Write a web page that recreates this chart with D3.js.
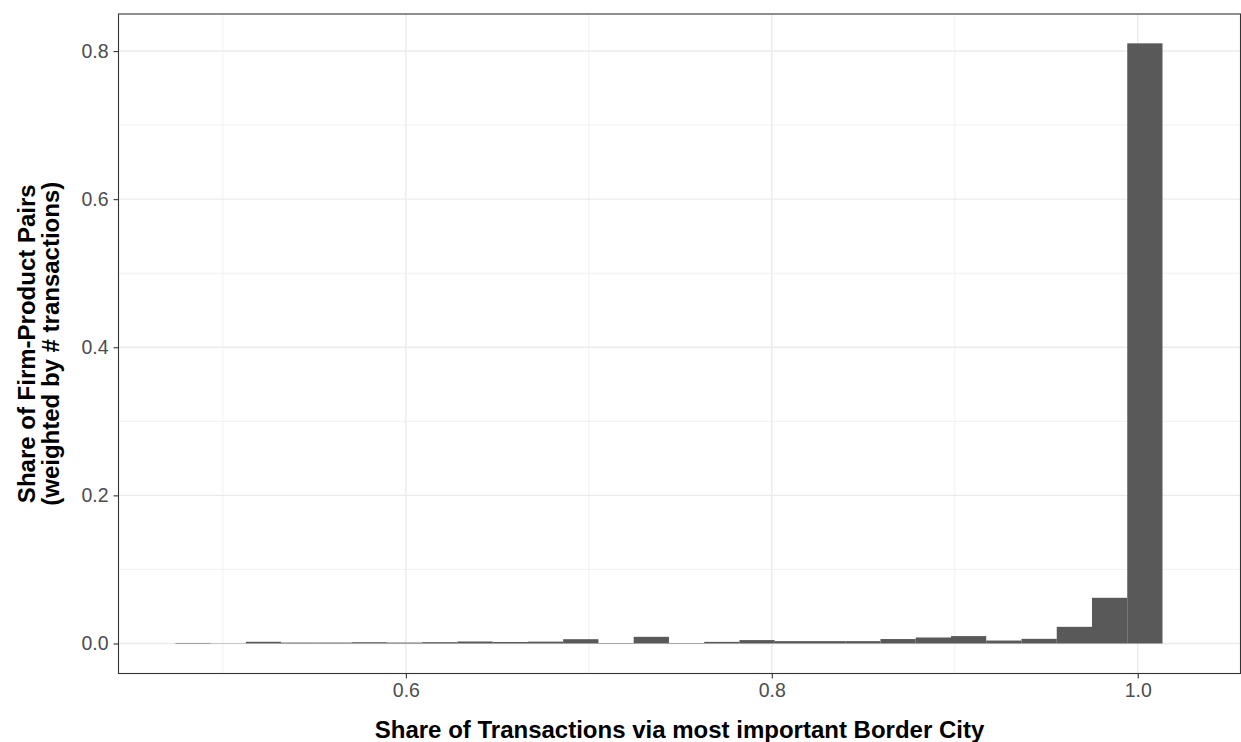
<!DOCTYPE html>
<html>
<head>
<meta charset="utf-8">
<script src="https://cdn.jsdelivr.net/npm/d3@7"></script>
<style>
  html, body { margin: 0; padding: 0; background: #fff; }
  svg { display: block; }
  text { font-family: "Liberation Sans", Arial, sans-serif; }
</style>
</head>
<body>
<svg id="chart" width="1241" height="742"></svg>
<script>
// ---- data ----
const binStart = 0.47404;          // left edge of first bin
const binWidth = 0.019268;         // width of each bin
const binHeights = [
  0.0007, 0.0003, 0.0023, 0.0012, 0.0012, 0.0017, 0.0012, 0.0018,
  0.0027, 0.0020, 0.0025, 0.0058, 0.0006, 0.0090, 0.0006, 0.0022,
  0.0046, 0.0032, 0.0032, 0.0032, 0.0060, 0.0081, 0.0100, 0.0040,
  0.0063, 0.0225, 0.0617, 0.8104
];
const xTicks = [0.6, 0.8, 1.0];
const xMinor = [0.5, 0.7, 0.9];
const yTicks = [0.0, 0.2, 0.4, 0.6, 0.8];
const yMinor = [0.1, 0.3, 0.5, 0.7];
const xTitle = "Share of Transactions via most important Border City";
const yTitle = ["Share of Firm-Product Pairs", "(weighted by # transactions)"];

const bins = binHeights.map((h, i) => ({ x0: binStart + i * binWidth, x1: binStart + (i + 1) * binWidth, y: h }));

// ---- layout ----
const svg = d3.select("#chart");
const pL = 118.5, pR = 1240.5, pT = 14, pB = 673.5;

const x = d3.scaleLinear().domain([0.44295, 1.05617]).range([pL, pR]);
const y = d3.scaleLinear().domain([-0.04052, 0.85]).range([pB, pT]);

// gridlines
const g = svg.append("g");
g.selectAll(".ymin").data(yMinor).enter().append("line")
  .attr("x1", pL).attr("x2", pR).attr("y1", d => y(d)).attr("y2", d => y(d))
  .attr("stroke", "#EBEBEB").attr("stroke-width", 0.7);
g.selectAll(".xmin").data(xMinor).enter().append("line")
  .attr("y1", pT).attr("y2", pB).attr("x1", d => x(d)).attr("x2", d => x(d))
  .attr("stroke", "#EBEBEB").attr("stroke-width", 0.7);
g.selectAll(".ymaj").data(yTicks).enter().append("line")
  .attr("x1", pL).attr("x2", pR).attr("y1", d => y(d)).attr("y2", d => y(d))
  .attr("stroke", "#EBEBEB").attr("stroke-width", 1.4);
g.selectAll(".xmaj").data(xTicks).enter().append("line")
  .attr("y1", pT).attr("y2", pB).attr("x1", d => x(d)).attr("x2", d => x(d))
  .attr("stroke", "#EBEBEB").attr("stroke-width", 1.4);

// bars
svg.append("g").selectAll("rect").data(bins).enter().append("rect")
  .attr("x", d => x(d.x0))
  .attr("width", d => x(d.x1) - x(d.x0))
  .attr("y", d => y(d.y))
  .attr("height", d => y(0) - y(d.y))
  .attr("fill", "#595959");

// panel border
svg.append("rect")
  .attr("x", pL).attr("y", pT).attr("width", pR - pL).attr("height", pB - pT)
  .attr("fill", "none").attr("stroke", "#333333").attr("stroke-width", 1.1);

// axes
const xAxis = svg.append("g").attr("transform", `translate(0,${pB})`)
  .call(d3.axisBottom(x).tickValues(xTicks).tickFormat(d3.format(".1f")).tickSize(5).tickPadding(5));
const yAxis = svg.append("g").attr("transform", `translate(${pL},0)`)
  .call(d3.axisLeft(y).tickValues(yTicks).tickFormat(d3.format(".1f")).tickSize(5).tickPadding(5));
[xAxis, yAxis].forEach(a => {
  a.select(".domain").remove();
  a.selectAll(".tick line").attr("stroke", "#333333").attr("stroke-width", 1.1);
  a.selectAll(".tick text").attr("fill", "#4D4D4D").style("font-size", "19.5px")
    .style("font-family", "'Liberation Sans', Arial, sans-serif");
});

// titles
svg.append("text")
  .attr("x", (pL + pR) / 2).attr("y", 738)
  .attr("text-anchor", "middle")
  .style("font-size", "24px").style("font-weight", "bold").attr("fill", "#000")
  .text(xTitle);

const yt = svg.append("text")
  .attr("transform", `translate(35,${(pT + pB) / 2}) rotate(-90)`)
  .attr("text-anchor", "middle")
  .style("font-size", "24px").style("font-weight", "bold").attr("fill", "#000");
yt.append("tspan").attr("x", 0).attr("dy", "0em").text(yTitle[0]);
yt.append("tspan").attr("x", 0).attr("dy", "1.0em").text(yTitle[1]);
</script>
</body>
</html>
